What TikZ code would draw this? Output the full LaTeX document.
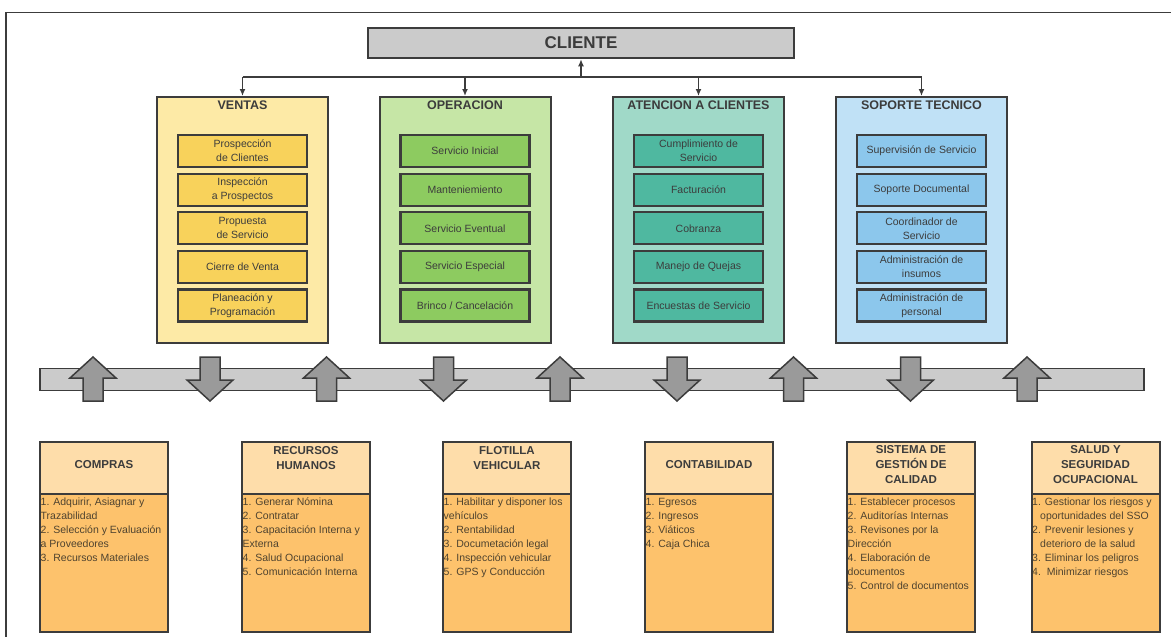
\documentclass[tikz,border=0pt]{standalone}
\usepackage{fontspec}
\setmainfont{Liberation Sans}
\usepackage{tikz}
\usetikzlibrary{positioning, arrows.meta, calc}
\definecolor{inkGray}{HTML}{3C3C3C}
\definecolor{barGray}{HTML}{CBCBCB}
\definecolor{arrowGray}{HTML}{9A9A9A}
\definecolor{ventasOut}{HTML}{FDEAA6}
\definecolor{ventasIn}{HTML}{F8D25B}
\definecolor{operOut}{HTML}{C6E6A6}
\definecolor{operIn}{HTML}{8DCB60}
\definecolor{atenOut}{HTML}{A0D9C8}
\definecolor{atenIn}{HTML}{4FB8A0}
\definecolor{soporOut}{HTML}{C0E1F6}
\definecolor{soporIn}{HTML}{8CC7EC}
\definecolor{deptHead}{HTML}{FEDDAA}
\definecolor{deptBody}{HTML}{FDC26C}
\definecolor{deptText}{HTML}{4F432F}
\tikzset{
  areabox/.style={draw=inkGray, line width=2pt, minimum width=171pt,
    minimum height=246pt, inner sep=0pt},
  areatitle/.style={font=\fontsize{12.5}{15}\selectfont\bfseries, text=inkGray},
  taskbox/.style={draw=inkGray, line width=2.2pt, minimum width=129pt,
    minimum height=32pt, inner sep=0pt, align=center, text=inkGray,
    font=\fontsize{10.5}{14}\selectfont},
  depthead/.style={draw=inkGray, line width=2pt, fill=deptHead,
    minimum width=128pt, minimum height=52pt, inner sep=0pt},
  deptbody/.style={draw=inkGray, line width=2pt, fill=deptBody,
    minimum width=128pt, minimum height=138pt, inner sep=0pt},
  depttitle/.style={align=center, text=inkGray,
    font=\fontsize{11.5}{15}\selectfont\bfseries},
  deptlist/.style={anchor=north west, align=left, text=deptText,
    inner xsep=1.5pt, inner ysep=5pt, font=\fontsize{10.5}{14}\selectfont},
  linkline/.style={draw=inkGray, line width=1.8pt},
  busarrow/.style={draw=inkGray, line width=1.5pt, fill=arrowGray,
    line join=miter}
}
% one area column: name, x, outer fill, title, task fill, tasks
\newcommand{\areacol}[6]{%
  \node[areabox, fill=#3] (#1) at (#2,220) {};
  \node[areatitle, below=1pt of #1.north] (#1-title) {#4};
  \foreach \txt [count=\k] in {#6}
    \node[taskbox, fill=#5] (#1-\k) at (#2,{112.5+38.6*\k}) {\txt};}
% one department: name, x, title shift, title, items
\newcommand{\dept}[5]{%
  \node[deptbody] (#1) at (#2,563) {};
  \node[depthead] (#1-head) at (#2,468) {};
  \node[depttitle, yshift=#3] (#1-title) at (#1-head) {#4};
  \node[deptlist] (#1-list) at (#1.north west) {#5};}
% block arrows on the bus
\newcommand{\busup}[1]{%
  \draw[busarrow] (#1,357) -- ({#1+23},378) -- ({#1+10},378) -- ({#1+10},401)
    -- ({#1-10},401) -- ({#1-10},378) -- ({#1-23},378) -- cycle;}
\newcommand{\busdown}[1]{%
  \draw[busarrow] ({#1-10},357) -- ({#1+10},357) -- ({#1+10},380) -- ({#1+23},380)
    -- (#1,401) -- ({#1-23},380) -- ({#1-10},380) -- cycle;}

\begin{document}
\begin{tikzpicture}[x=1pt, y=-1pt]
  \useasboundingbox (0,0) rectangle (1171,637);
  % ---- frame ----
  \draw[line width=1.5pt, draw=inkGray] (6,637) -- (6,12.5) -- (1171,12.5);

  % ---- cliente ----
  \node[draw=inkGray, line width=2.5pt, fill=barGray, minimum width=426pt,
    minimum height=30pt, text=inkGray, font=\fontsize{17}{20}\selectfont\bfseries]
    (cliente) at (581,43) {CLIENTE};

  % ---- areas ----
  \areacol{ventas}{242.5}{ventasOut}{VENTAS}{ventasIn}{%
    Prospección\\de Clientes, Inspección\\a Prospectos, Propuesta\\de Servicio,
    Cierre de Venta, Planeación y\\Programación}
  \areacol{oper}{465}{operOut}{OPERACION}{operIn}{%
    Servicio Inicial, Manteniemiento, Servicio Eventual, Servicio Especial,
    Brinco / Cancelación}
  \areacol{aten}{698.5}{atenOut}{ATENCION A CLIENTES}{atenIn}{%
    Cumplimiento de\\Servicio, Facturación, Cobranza, Manejo de Quejas,
    Encuestas de Servicio}
  \areacol{sopor}{921.5}{soporOut}{SOPORTE TECNICO}{soporIn}{%
    Supervisión de Servicio, Soporte Documental, Coordinador de\\Servicio,
    Administración de\\insumos, Administración de\\personal}

  % ---- links to cliente ----
  \coordinate (hub) at (581,77);
  \draw[linkline, -{Latex[length=7pt,width=6pt]}] (hub) -- (cliente.south);
  \draw[linkline] (ventas.north |- hub) -- (sopor.north |- hub);
  \foreach \n in {ventas,oper,aten,sopor}
    \draw[linkline, -{Latex[length=7pt,width=6pt]}] (\n.north |- hub) -- (\n.north);

  % ---- bus ----
  \node[draw=inkGray, line width=1.5pt, fill=barGray, minimum width=1104pt,
    minimum height=22pt, inner sep=0pt] (bus) at (592,379.5) {};
  \foreach \k in {0,...,4}
    {\busup{93+233.5*\k}}
  \foreach \k in {0,...,3}
    {\busdown{210+233.5*\k}}

  % ---- departments ----
  \dept{compras}{104}{3pt}{COMPRAS}{%
    1. Adquirir, Asiagnar y\\Trazabilidad\\2. Selección y Evaluación\\
    a Proveedores\\3. Recursos Materiales}
  \dept{rrhh}{306}{10pt}{RECURSOS\\HUMANOS}{%
    1. Generar Nómina\\2. Contratar\\3. Capacitación Interna y\\Externa\\
    4. Salud Ocupacional\\5. Comunicación Interna}
  \dept{flotilla}{507}{10pt}{FLOTILLA\\VEHICULAR}{%
    1. Habilitar y disponer los\\vehículos\\2. Rentabilidad\\
    3. Documetación legal\\4. Inspección vehicular\\5. GPS y Conducción}
  \dept{conta}{709}{3pt}{CONTABILIDAD}{%
    1. Egresos\\2. Ingresos\\3. Viáticos\\4. Caja Chica}
  \dept{calidad}{911}{3pt}{SISTEMA DE\\GESTIÓN DE\\CALIDAD}{%
    1. Establecer procesos\\2. Auditorías Internas\\3. Revisones por la\\
    Dirección\\4. Elaboración de\\documentos\\5. Control de documentos}
  \dept{salud}{1095.5}{3pt}{SALUD Y\\SEGURIDAD\\OCUPACIONAL}{%
    1. Gestionar los riesgos y\\\hspace*{8pt}oportunidades del SSO\\
    2. Prevenir lesiones y\\\hspace*{8pt}deterioro de la salud\\
    3. Eliminar los peligros\\4.\ \ Minimizar riesgos}
\end{tikzpicture}
\end{document}
